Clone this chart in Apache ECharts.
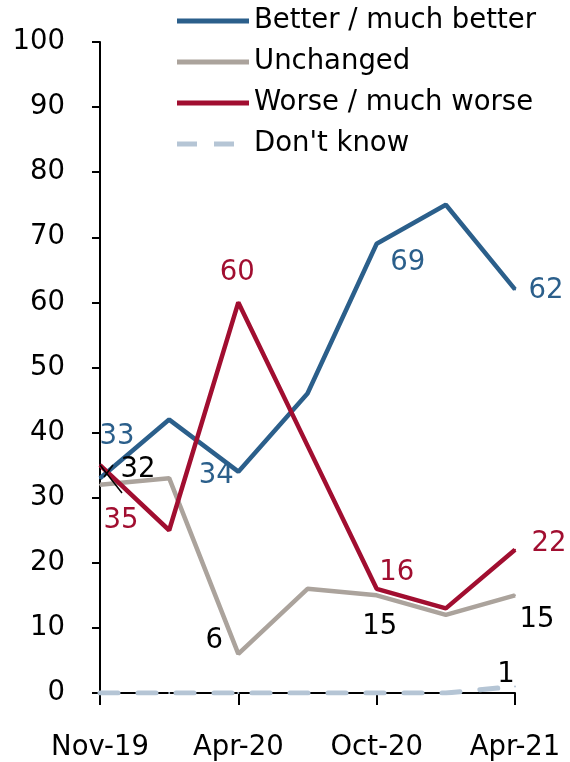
<!DOCTYPE html>
<html><head><meta charset="utf-8">
<script src="https://cdn.jsdelivr.net/npm/echarts@6/dist/echarts.min.js"></script>
<style>html,body{margin:0;padding:0;background:#fff}#c{width:570px;height:762px}</style>
</head><body><div id="c"></div>
<script>
const categories = ['Nov-19','Jan-20','Apr-20','Jul-20','Oct-20','Jan-21','Apr-21'];
const shownLabels = ['Nov-19','Apr-20','Oct-20','Apr-21'];
const better = [33, 42, 34, 46, 69, 75, 62];
const unchanged = [32, 33, 6, 16, 15, 12, 15];
const worse = [35, 25, 60, 38, 16, 13, 22];
const dontKnow = [0, 0, 0, 0, 0, 0, 1];
const labelledIdx = {better:[0,2,4,6], unchanged:[0,2,4,6], worse:[0,2,4,6], dontKnow:[6]};

// label placement (offset of label centre from point, px)
const labelOffsets = {
  better:    {0:[17,-41], 2:[-22,4], 4:[31,19], 6:[31,1]},
  unchanged: {0:[38,-15], 2:[-24,-13], 4:[3,32], 6:[22,25]},
  worse:     {0:[21,56], 2:[-1,-30], 4:[20,-16], 6:[34,-6]},
  dontKnow:  {6:[-9,-12]}
};
const FONT = '"DejaVu Sans"';
const FS = 27.5;
function build(key, values, color){
  return values.map((v,i)=>{
    const o = labelOffsets[key][i];
    if (labelledIdx[key].indexOf(i) < 0 || !o) return {value:v};
    return {value:v, label:{show:true, position:'inside', offset:o, color:color, fontSize:FS, fontFamily:FONT}};
  });
}
const cBlue='#2b5f8b', cGray='#aba39c', cRed='#a10e30', cLight='#b5c5d5';
const chart = echarts.init(document.getElementById('c'), null, {renderer:'canvas'});
const solidIcon = 'path://M0,0h72v5h-72z';
const dashIcon = 'path://M0,0h20v5h-20zM37,0h20v5h-20zM71.9,2.45h0.1v0.1h-0.1z';
function lineSeries(name, key, values, color, dashed){
  const lc = (key==='unchanged' || key==='dontKnow') ? '#000' : color;
  return {
    name, type:'line', data: build(key, values, lc),
    symbol:'circle', symbolSize:2, showSymbol:true,
    itemStyle:{color:color},
    lineStyle:{color:color, width: dashed?5:4.5, type: dashed?[18,20]:'solid', cap: dashed?'round':'butt'},
    emphasis:{disabled:true}, animation:false, z: dashed?3:2
  };
}
chart.setOption({
  animation:false,
  color:[cBlue,cGray,cRed,cLight],
  grid:{left:100, right:55, top:42, bottom:69, containLabel:false},
  legend:{
    orient:'vertical', left:172, top:0, itemWidth:72, itemHeight:5, itemGap:9,
    textStyle:{fontFamily:FONT, fontSize:FS, color:'#000', lineHeight:32},
    selectedMode:false,
    data:[
      {name:'Better / much better', icon:solidIcon, itemStyle:{color:cBlue}},
      {name:'Unchanged', icon:solidIcon, itemStyle:{color:cGray}},
      {name:'Worse / much worse', icon:solidIcon, itemStyle:{color:cRed}},
      {name:"Don't know", icon:dashIcon, itemStyle:{color:cLight}}
    ]
  },
  xAxis:{
    type:'category', data:categories, boundaryGap:false,
    axisLine:{lineStyle:{color:'#000', width:2}},
    axisTick:{show:true, interval:1, length:12, lineStyle:{color:'#000', width:2}},
    axisLabel:{interval:1, margin:41, fontFamily:FONT, fontSize:FS, color:'#000',
      formatter:(v)=> shownLabels.indexOf(v)>=0 ? v : ''},
    splitLine:{show:false}
  },
  yAxis:{
    type:'value', min:0, max:100, interval:10,
    axisLine:{show:true, lineStyle:{color:'#000', width:2}},
    axisTick:{show:true, length:8, lineStyle:{color:'#000', width:2}},
    axisLabel:{margin:35, fontFamily:FONT, fontSize:FS, color:'#000'},
    splitLine:{show:false}
  },
  graphic:[
    {type:'line', shape:{x1:100,y1:465,x2:122,y2:493}, style:{stroke:'#000', lineWidth:1.5}, z:10},
    {type:'line', shape:{x1:104,y1:477,x2:113,y2:465}, style:{stroke:'#000', lineWidth:1.5}, z:10}
  ],
  series:[
    lineSeries('Better / much better','better',better,cBlue,false),
    lineSeries('Unchanged','unchanged',unchanged,cGray,false),
    lineSeries('Worse / much worse','worse',worse,cRed,false),
    lineSeries("Don't know",'dontKnow',dontKnow,cLight,true)
  ]
});
</script></body></html>
